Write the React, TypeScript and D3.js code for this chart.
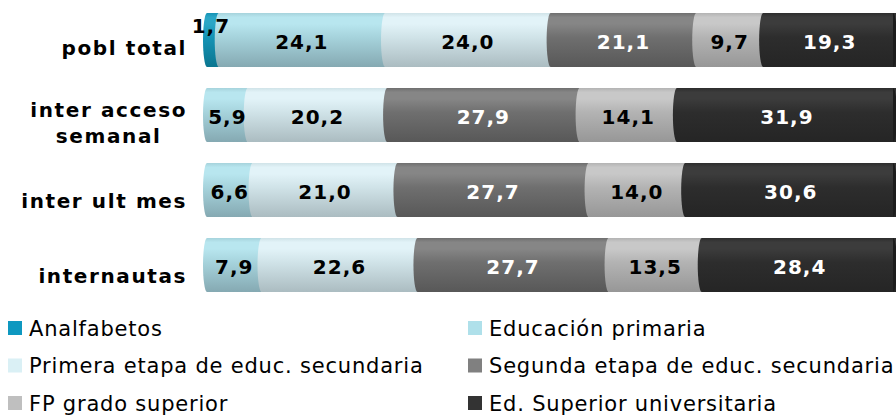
// App.tsx - stacked cylinder bars, education level by internet usage
import { useEffect, useRef } from 'react';
import * as d3 from 'd3';

const categories = ['pobl total', 'inter acceso\nsemanal', 'inter ult mes', 'internautas'];
const seriesNames = [
  'Analfabetos',
  'Educación primaria',
  'Primera etapa de educ. secundaria',
  'Segunda etapa de educ. secundaria',
  'FP grado superior',
  'Ed. Superior universitaria',
];
const analfabetos = [1.7, 0, 0, 0];
const primaria = [24.1, 5.9, 6.6, 7.9];
const primeraEtapa = [24.0, 20.2, 21.0, 22.6];
const segundaEtapa = [21.1, 27.9, 27.7, 27.7];
const fpSuperior = [9.7, 14.1, 14.0, 13.5];
const universitaria = [19.3, 31.9, 30.6, 28.4];
const seriesValues = [analfabetos, primaria, primeraEtapa, segundaEtapa, fpSuperior, universitaria];

// legend swatch colour + cylinder gradient (top, mid, bottom)
const legendColors = ['#0e98c0', '#afe0ea', '#daf0f5', '#808080', '#bfbfbf', '#333333'];
const barShades = [
  ['#2aa6c6', '#1593b5', '#0a7690'],
  ['#b8e6ef', '#a6d3dc', '#85a9b2'],
  ['#e2f3f8', '#d0e3e8', '#abbcc1'],
  ['#868686', '#6f6f6f', '#585858'],
  ['#c8c8c8', '#b3b3b3', '#979797'],
  ['#3c3c3c', '#2d2d2d', '#252525'],
];
const whiteLabel = [false, false, false, true, false, true];

const W = 896;
const H = 416;
const FONT = '"DejaVu Sans", Verdana, sans-serif';

export default function App() {
  const svgRef = useRef<SVGSVGElement | null>(null);

  useEffect(() => {
    document.body.style.margin = '0';
    const svg = d3.select(svgRef.current);
    svg.selectAll('*').remove();

    const rows = categories.map((c, i) => {
      const r: any = { cat: c };
      seriesNames.forEach((s, j) => (r[s] = seriesValues[j][i]));
      return r;
    });
    const stacked = d3.stack<any>().keys(seriesNames)(rows);

    const x = d3.scaleLinear().domain([0, 100]).range([207, 897]);
    const y = d3.scaleBand().domain(categories).range([2.5, 302.5]).paddingInner(0.28).paddingOuter(0.14);

    const defs = svg.append('defs');
    barShades.forEach((sh, i) => {
      const g = defs.append('linearGradient')
        .attr('id', `grad${i}`)
        .attr('x1', 0).attr('y1', 0).attr('x2', 0).attr('y2', 1);
      g.append('stop').attr('offset', 0).attr('stop-color', sh[1]);
      g.append('stop').attr('offset', 0.08).attr('stop-color', sh[0]);
      g.append('stop').attr('offset', 0.2).attr('stop-color', sh[0]);
      g.append('stop').attr('offset', 0.45).attr('stop-color', sh[1]);
      g.append('stop').attr('offset', 1).attr('stop-color', sh[2]);
    });

    const bh = y.bandwidth();
    const rx = 4;
    const segPath = (x0: number, x1: number, top: number) => {
      const bot = top + bh;
      return `M${x0},${top} L${x1},${top} L${x1},${bot} L${x0},${bot} A${rx},${bh / 2} 0 0 1 ${x0},${top} Z`;
    };

    const bars = svg.append('g');
    stacked.forEach((layer, si) => {
      layer.forEach((d, ci) => {
        if (d[1] - d[0] <= 0) return;
        const top = y(categories[ci]) as number;
        bars.append('path')
          .attr('d', segPath(x(d[0]), x(d[1]), top))
          .attr('fill', `url(#grad${si})`);
      });
    });
    // right end caps
    categories.forEach((c) => {
      const top = y(c) as number;
      bars.append('path')
        .attr('d', `M${x(100) - 4},${top} A${rx},${bh / 2} 0 0 1 ${x(100) - 4},${top + bh} Z`)
        .attr('fill', '#1c1c1c');
    });

    // value labels
    const labels = svg.append('g')
      .attr('font-family', FONT)
      .attr('font-weight', 'bold')
      .attr('font-size', 20)
      .attr('letter-spacing', 1)
      .attr('text-anchor', 'middle');
    stacked.forEach((layer, si) => {
      layer.forEach((d, ci) => {
        const v = d[1] - d[0];
        if (v <= 0) return;
        const cx = (x(d[0]) + x(d[1])) / 2;
        const cy = (y(categories[ci]) as number) + bh / 2;
        const t = labels.append('text')
          .attr('x', cx)
          .attr('y', cy + 9)
          .attr('fill', whiteLabel[si] ? '#ffffff' : '#000000')
          .text(d3.format('.1f')(seriesValues[si][ci]).replace('.', ','));
        const tw = (t.node() as SVGTextElement).getComputedTextLength();
        if (tw > x(d[1]) - x(d[0])) t.attr('y', cy - 7).attr('x', cx - 2);
      });
    });

    // category labels
    const catG = svg.append('g')
      .attr('font-family', FONT)
      .attr('font-weight', 'bold')
      .attr('font-size', 20)
      .attr('letter-spacing', 1.6)
      .attr('fill', '#000');
    categories.forEach((c, ci) => {
      const lines = c.split('\n');
      const cy = (y(c) as number) + bh / 2 + 8 + (ci >= 2 ? 3 : 0);
      const t = catG.append('text').attr('text-anchor', 'middle');
      lines.forEach((ln, li) => {
        t.append('tspan')
          .attr('x', 0)
          .attr('y', cy + 7 + (li - (lines.length - 1) / 2) * 26)
          .text(ln);
      });
      const w = (t.node() as SVGTextElement).getBBox().width;
      t.selectAll('tspan').attr('x', 187 - w / 2);
    });

    // legend
    const leg = svg.append('g')
      .attr('font-family', FONT)
      .attr('font-size', 21)
      .attr('letter-spacing', 0.8);
    seriesNames.forEach((s, i) => {
      const col = i % 2;
      const row = Math.floor(i / 2);
      const lx = col === 0 ? 8 : 468;
      const ly = 328 + row * 37.5;
      leg.append('rect')
        .attr('x', lx).attr('y', ly - 7)
        .attr('width', 14).attr('height', 14)
        .attr('fill', legendColors[i]);
      leg.append('text')
        .attr('x', lx + 21).attr('y', ly + 7.5)
        .attr('fill', '#000')
        .text(s);
    });
  }, []);

  return <svg ref={svgRef} width={W} height={H} style={{ display: 'block', background: '#fff' }} />;
}
